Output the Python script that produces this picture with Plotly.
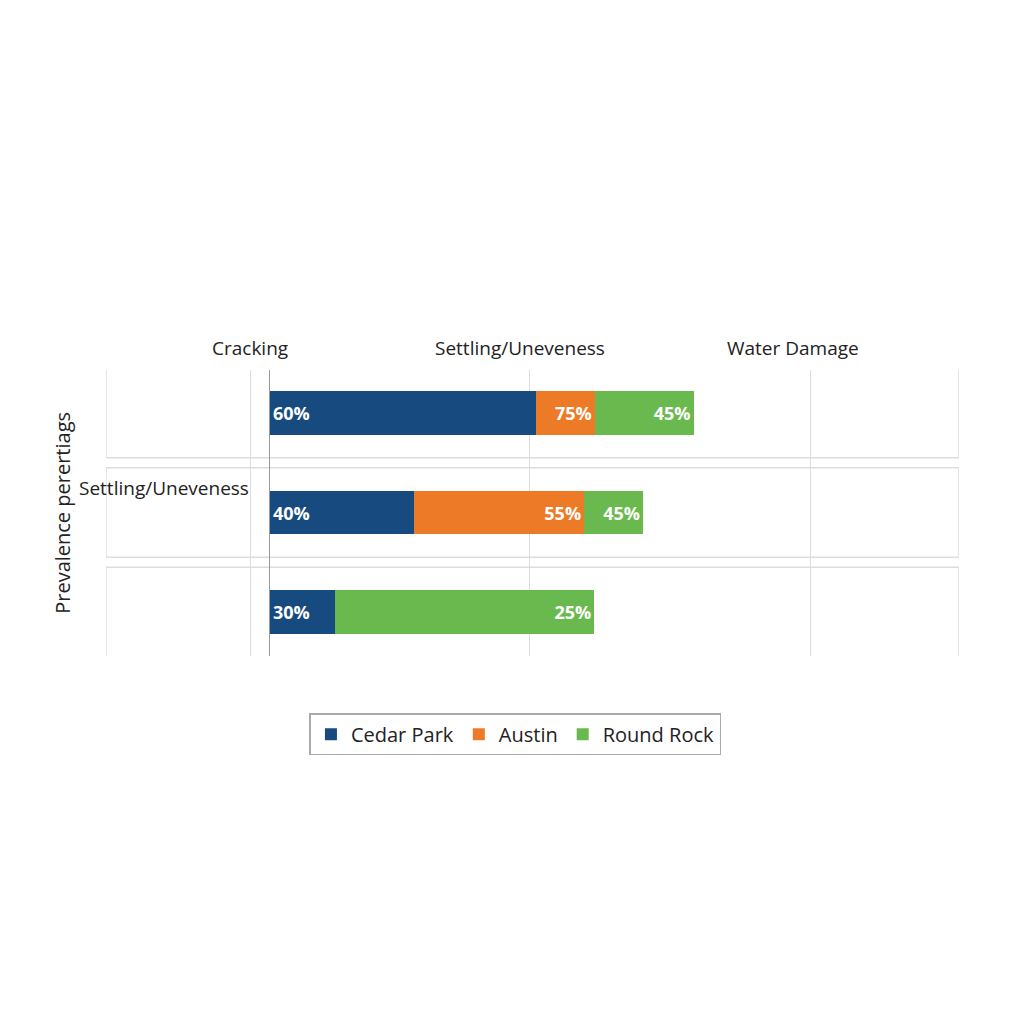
import plotly.graph_objects as go

rows = [0, 1, 2]
series = ["Cedar Park", "Austin", "Round Rock"]
colors = ["#174a7e", "#ec7a26", "#6ab94e"]
# segment lengths as drawn and the printed labels
lengths = {
    "Cedar Park": [60, 32.5, 14.7],
    "Austin": [13.3, 38.4, 0],
    "Round Rock": [22.3, 13.3, 58.5],
}
labels = {
    "Cedar Park": ["60%", "40%", "30%"],
    "Austin": ["75%", "55%", ""],
    "Round Rock": ["45%", "45%", "25%"],
}
top_labels = ["Cracking", "Settling/Uneveness", "Water Damage"]
top_pos = [-4.5, 56.5, 118]
grid_pos = [-4.3, 58.5, 122]

fig = go.Figure()
for name, col in zip(series, colors):
    fig.add_trace(go.Bar(
        y=rows, x=lengths[name], name=name, orientation="h",
        marker=dict(color=col, line=dict(width=0)), width=0.44,
        text=["<b>%s</b>" % t if t else "" for t in labels[name]],
        textposition="inside",
        insidetextanchor="end" if name != "Cedar Park" else "start",
        textfont=dict(color="white", size=18, family="Open Sans"),
    ))

for r in rows:
    fig.add_shape(type="rect", x0=-37, x1=155.5, y0=r - 0.45, y1=r + 0.45,
                  line=dict(color="#dddddd", width=1.5), layer="below")

for t, p in zip(top_labels, top_pos):
    fig.add_annotation(x=p, y=1.13, yref="paper", text=t, showarrow=False,
                       font=dict(size=19, color="#222"))
fig.add_annotation(x=-24, y=0.75, text="Settling/Uneveness", showarrow=False,
                   font=dict(size=19, color="#222"))

fig.update_layout(
    barmode="stack", width=1024, height=1024,
    paper_bgcolor="white", plot_bgcolor="white",
    margin=dict(l=98, r=73, t=362, b=376, autoexpand=False),
    font=dict(family="Open Sans", color="#222"),
    legend=dict(orientation="h", x=0.48, xanchor="center", y=-0.2, yanchor="top",
                bordercolor="#aaaaaa", borderwidth=1.5, font=dict(size=20),
                traceorder="normal", itemsizing="constant", itemwidth=30),
)
fig.update_xaxes(range=[-37, 155.5], tickvals=grid_pos, showticklabels=False,
                 showgrid=True, gridcolor="#dddddd", zeroline=True,
                 zerolinecolor="#999999", zerolinewidth=1)
fig.update_yaxes(range=[2.44, -0.43], showticklabels=False, showgrid=False,
                 zeroline=False)
fig.add_annotation(x=-0.07, xref="paper", y=0.5, yref="paper",
                   text="Prevalence perertiags", textangle=-90, showarrow=False,
                   font=dict(size=20, color="#222"))
fig.write_html("out.html")
